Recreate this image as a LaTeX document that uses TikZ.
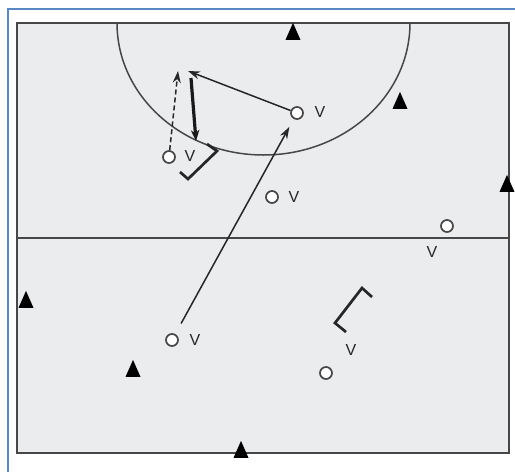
\documentclass[tikz,border=0pt]{standalone}
\usepackage{fontspec}
\setmainfont{Liberation Sans}
\usetikzlibrary{arrows.meta,shapes.geometric}
\definecolor{fieldgray}{HTML}{EBECEE}
\definecolor{lineg}{HTML}{474747}
\definecolor{frameblue}{HTML}{5B87C5}
\begin{document}
\begin{tikzpicture}[x=1pt,y=-1pt,
  player/.style={circle,draw=lineg,fill=white,line width=1.7pt,minimum size=12pt,inner sep=0pt},
  lab/.style={font=\fontsize{16}{16}\selectfont,text=black!85,inner sep=0pt},
  cone/.style={isosceles triangle,shape border rotate=90,isosceles triangle stretches,
    minimum width=15pt,minimum height=17pt,fill=black,inner sep=0pt},
  pass/.style={-{Stealth[length=12pt,width=8pt]},line width=1.5pt,draw=black!85},
  shot/.style={-{Stealth[length=11pt,width=8.5pt]},line width=3.2pt,draw=black!90},
  run/.style={-{Stealth[length=12pt,width=8pt]},line width=1.5pt,dashed,dash pattern=on 5pt off 3pt,draw=black!85},
  bracket/.style={line width=2.7pt,draw=black!85,line join=miter,line cap=butt}]
\useasboundingbox (0,0) rectangle (515,472);
\fill[white] (0,0) rectangle (515,472);
% outer frame
\draw[frameblue,line width=2pt] (8,472) -- (8,9) -- (515,9);
% field
\filldraw[fill=fieldgray,draw=lineg,line width=2pt] (17,23) rectangle (509,453);
\draw[lineg,line width=1.7pt] (17,238) -- (509,238);
\draw[lineg,line width=1.5pt] (117,23) arc[start angle=180,end angle=0,x radius=146.5,y radius=132];
% cones
\node[cone] (c1) at (293,35) {};
\node[cone] (c2) at (400,104) {};
\node[cone] (c3) at (507,187) {};
\node[cone] (c4) at (26,303) {};
\node[cone] (c5) at (133,372) {};
\node[cone] (c6) at (241,453) {};
% players
\node[player] (p1) at (297,113) {};
\node[lab] (v1) at (320,112) {V};
\node[player] (p2) at (169,157) {};
\node[lab] (v2) at (190,156) {V};
\node[player] (p3) at (272,197) {};
\node[lab] (v3) at (294,197) {V};
\node[player] (p4) at (447,226) {};
\node[lab] (v4) at (432,252) {V};
\node[player] (p5) at (172,340) {};
\node[lab] (v5) at (195,340) {V};
\node[player] (p6) at (326,373) {};
\node[lab] (v6) at (351,350) {V};
% brackets
\draw[bracket] (207,144) -- (217,151) -- (188,179) -- (180,172);
\draw[bracket] (372,297) -- (362,288) -- (335,323) -- (346,332);
% movement
\coordinate (pa) at (188,71);
\coordinate (ta) at (191,78);
\coordinate (tb) at (196,141);
\coordinate (da) at (178,71);
\draw[pass] (p1) -- (pa);
\draw[shot] (ta) -- (tb);
\draw[run] (p2) -- (da);
\draw[pass,shorten <=12pt,shorten >=9pt] (p5) -- (p1);
\end{tikzpicture}
\end{document}
